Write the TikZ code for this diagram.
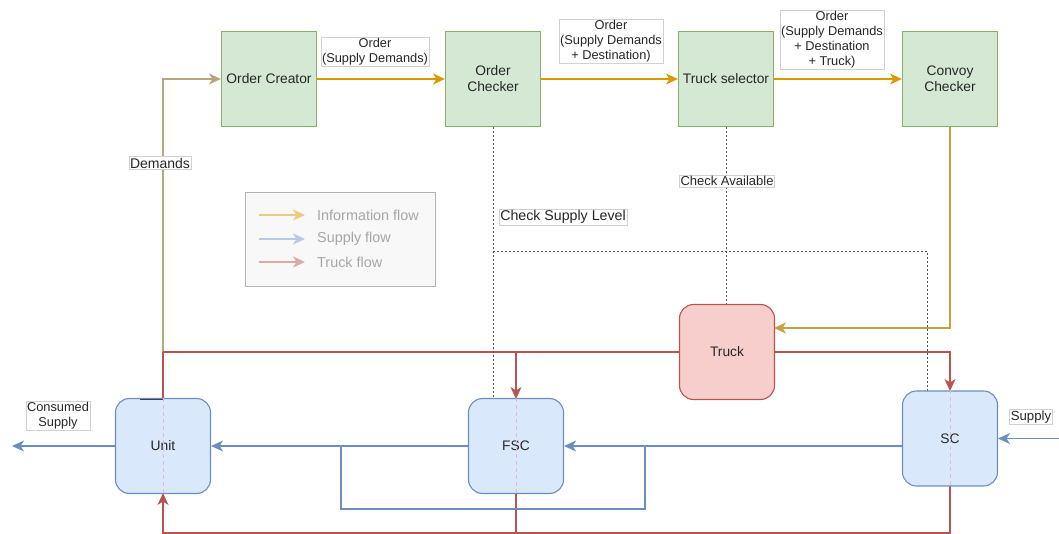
\documentclass[tikz,border=0pt]{standalone}
\usepackage{fontspec}
\setmainfont{Liberation Sans}
\usetikzlibrary{arrows.meta,calc}
\definecolor{gfill}{HTML}{D5E8D4}
\definecolor{gline}{HTML}{82B366}
\definecolor{bfill}{HTML}{DAE8FC}
\definecolor{bline}{HTML}{6C8EBF}
\definecolor{rfill}{HTML}{F8CECC}
\definecolor{rline}{HTML}{B85450}
\definecolor{info}{HTML}{D79B00}
\definecolor{infotan}{HTML}{B5A67E}
\definecolor{infoochre}{HTML}{C89E3E}
\definecolor{txt}{HTML}{262626}
\definecolor{dotc}{HTML}{555555}
\definecolor{pinkd}{HTML}{E6B8CC}
\definecolor{lgfill}{HTML}{F8F8F8}
\definecolor{lgline}{HTML}{B3B3B3}
\definecolor{lgtxt}{HTML}{A6A6A6}
\definecolor{lgy}{HTML}{EBCB7F}
\definecolor{lgb}{HTML}{B8C9E6}
\definecolor{lgr}{HTML}{DDA9A7}
\tikzset{
  fs/.style={font=\fontsize{#1}{15}\selectfont},
  gbox/.style={rectangle, draw=gline, fill=gfill, line width=1.1pt, minimum width=95pt, minimum height=95pt, inner sep=0pt, align=center, text=txt, font=\fontsize{13.8}{16}\selectfont},
  bbox/.style={rectangle, rounded corners=14pt, draw=bline, fill=bfill, line width=1.1pt, minimum width=95pt, minimum height=95pt, inner sep=0pt, align=center, text=txt, font=\fontsize{13.8}{16}\selectfont},
  rbox/.style={bbox, draw=rline, fill=rfill},
  elab/.style={rectangle, draw=black!18, fill=white, line width=0.5pt, inner sep=1.2pt, align=center, text=txt, fs=12.8},
  tip/.style={-{Stealth[length=12pt,width=11pt,inset=3.5pt]}},
  infoarr/.style={draw=info, line width=1.3pt, tip},
  bluearr/.style={draw=bline, line width=1.3pt},
  redarr/.style={draw=rline, line width=1.3pt},
  dotline/.style={draw=dotc, line width=0.7pt, dash pattern=on 2pt off 2pt},
  pinkline/.style={draw=pinkd, line width=0.8pt, dash pattern=on 4pt off 3pt},
}
\begin{document}
\begin{tikzpicture}[x=1pt,y=-1pt]
\useasboundingbox (0,0) rectangle (1059,534);

% legend
\node[rectangle, draw=lgline, fill=lgfill, line width=0.8pt, minimum width=190pt, minimum height=94pt, inner sep=0pt] (legend) at (340,239) {};
\coordinate (ly1a) at (259,215); \coordinate (ly1b) at (305,215);
\coordinate (ly2a) at (259,239); \coordinate (ly2b) at (305,239);
\coordinate (ly3a) at (259,262); \coordinate (ly3b) at (305,262);
\draw[draw=lgy, line width=1.3pt, tip] (ly1a) -- (ly1b);
\draw[draw=lgb, line width=1.3pt, tip] (ly2a) -- (ly2b);
\draw[draw=lgr, line width=1.3pt, tip] (ly3a) -- (ly3b);
\node[anchor=west, text=lgtxt, fs=14.4, inner sep=0pt] (lt1) at (317,215) {Information flow};
\node[anchor=west, text=lgtxt, fs=14.4, inner sep=0pt] (lt2) at (317,239) {Supply flow};
\node[anchor=west, text=lgtxt, fs=14.4, inner sep=0pt] (lt3) at (317,262) {Truck flow};

% coordinates for connectors
\coordinate (cdem) at (163,79);
\coordinate (cred) at (163,352);
\coordinate (cbr) at (493,251);
\coordinate (cbrr) at (927,251);
\coordinate (cbrd) at (927,391);
\coordinate (cconv) at (950,328);
\coordinate (ctin) at (774,328);
\coordinate (cout) at (12,446);
\coordinate (cin) at (1059,438.5);
\coordinate (clp1) at (341,446);
\coordinate (clp2) at (341,509);
\coordinate (clp3) at (645,509);
\coordinate (clp4) at (645,446);
\coordinate (cbotr) at (950,533);
\coordinate (cbotl) at (163,533);
\coordinate (cbotm) at (516,533);

% dotted lines (behind)
\draw[dotline] (cbr) -- (cbrr) -- (cbrd);

% boxes
\node[gbox] (oc) at (269,79) {Order Creator};
\node[gbox] (ochk) at (493,79) {Order\\Checker};
\node[gbox] (tsel) at (726,79) {Truck selector};
\node[gbox] (cchk) at (950,79) {Convoy\\Checker};

% demands line
\draw[draw=infotan, line width=1.3pt, tip] (163,399) -- (cdem) -- (oc.west);

% red truck lines
\draw[redarr] (cred) -- (680,352);
\draw[redarr] (cred) -- (163,399);
\draw[redarr, tip] (516,352) -- (516,399);
\draw[redarr, tip] (774,352) -- (950,352) -- (950,391);
\draw[redarr, tip] (950,486) -- (cbotr) -- (cbotl) -- (163,493);
\draw[redarr] (516,493) -- (cbotm);

\node[rbox] (truck) at (727,352) {Truck};
\node[bbox] (unit) at (163,446) {Unit};
\node[bbox] (fsc) at (516,446) {FSC};
\node[bbox] (sc) at (950,438.5) {SC};

% pink dashed center lines
\draw[pinkline] (unit.north) -- (unit.south);
\draw[pinkline] (fsc.north) -- (fsc.south);
\draw[pinkline] (sc.north) -- (sc.south);
% small dark mark on unit top
\draw[draw=black!75, line width=1pt] (140,399.5) -- (163,399.5);

% dotted to truck and to FSC (endpoints on nodes)
\draw[dotline] (tsel.south) -- (tsel.south |- truck.north);
\draw[dotline] (ochk.south) -- (ochk.south |- fsc.north);

% info arrows
\draw[infoarr] (oc.east) -- (ochk.west);
\draw[infoarr] (ochk.east) -- (tsel.west);
\draw[infoarr] (tsel.east) -- (cchk.west);
\draw[draw=infoochre, line width=1.3pt, tip] (cchk.south) -- (cconv) -- (ctin);

% blue supply arrows
\draw[bluearr, tip] (unit.west) -- (cout);
\draw[bluearr, tip] (fsc.west) -- (unit.east);
\draw[bluearr, tip] (sc.west |- fsc.east) -- (fsc.east);
\draw[bluearr, tip] (cin) -- (sc.east);
\draw[bluearr] (clp1) -- (clp2) -- (clp3) -- (clp4);

% labels
\node[elab, fs=14] (ldem) at (160,163) {Demands};
\node[elab] (l1) at (375,52) {Order\\(Supply Demands)};
\node[elab] (l2) at (611,41) {Order\\(Supply Demands\\+ Destination)};
\node[elab] (l3) at (832,40) {Order\\(Supply Demands\\+ Destination\\+ Truck)};
\node[elab, fs=13] (lca) at (727,181) {Check Available};
\node[elab, fs=14.2] (lcs) at (563,217) {Check Supply Level};
\node[elab] (lcons) at (58,416) {Consumed\\Supply};
\node[elab, fs=13.2] (lsup) at (1031,417) {Supply};
\end{tikzpicture}
\end{document}
